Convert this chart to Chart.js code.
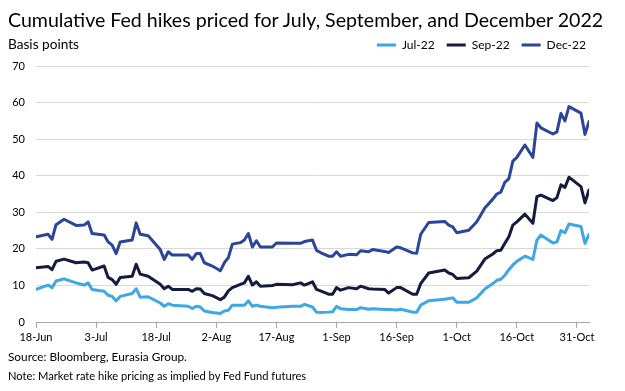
<!DOCTYPE html>
<html><head><meta charset="utf-8">
<script src="https://cdn.jsdelivr.net/npm/chart.js@4"></script>
<style>
html,body{margin:0;padding:0;background:#fff;}
#wrap{position:relative;width:625px;height:391px;overflow:hidden;font-family:Lato,"Liberation Sans",sans-serif;color:#000;}
#wrap canvas{position:absolute;left:0;top:0;}
.t{position:absolute;white-space:nowrap;line-height:1;font-family:Lato,"Liberation Sans",sans-serif;}
</style></head><body>
<div id="wrap">
<canvas id="c" width="625" height="391"></canvas>
<div class="t" id="title">Cumulative Fed hikes priced for July, September, and December 2022</div>
<div class="t" id="unit">Basis points</div>
<div class="t" id="src">Source: Bloomberg, Eurasia Group.</div>
<div class="t" id="note">Note: Market rate hike pricing as implied by Fed Fund futures</div>
</div>
<script>
const dates = ['06-18','06-21','06-22','06-23','06-25','06-28','06-30','07-01','07-02','07-05','07-06','07-07','07-08','07-09','07-12','07-13','07-14','07-16','07-19','07-20','07-21','07-22','07-26','07-27','07-28','07-29','07-30','08-01','08-03','08-04','08-05','08-06','08-08','08-09','08-10','08-11','08-12','08-13','08-16','08-17','08-21','08-23','08-24','08-26','08-27','08-28','08-30','08-31','09-01','09-02','09-04','09-06','09-07','09-09','09-10','09-13','09-14','09-16','09-17','09-20','09-21','09-22','09-24','09-28','09-29','09-30','10-01','10-04','10-06','10-08','10-10','10-11','10-12','10-13','10-14','10-15','10-16','10-18','10-20','10-21','10-22','10-25','10-26','10-27','10-28','10-29','11-01','11-02','11-03'];
const jul22 = [8.9,10.1,9.4,11.2,11.8,10.7,10.1,10.7,8.9,8.4,7.3,7.0,5.8,7.0,7.8,9.1,6.8,6.9,5.2,4.3,5.0,4.6,4.3,3.7,4.3,4.1,3.0,2.6,2.3,3.0,3.2,4.6,4.6,4.6,5.8,4.3,4.6,4.3,3.9,4.0,4.3,4.3,4.8,4.1,2.7,2.6,2.7,2.8,4.3,3.6,3.4,3.4,3.9,3.5,3.6,3.4,3.4,3.3,3.5,2.7,2.7,4.6,5.8,6.2,6.4,6.6,5.4,5.4,6.6,9.0,10.5,11.4,11.7,12.8,14.3,15.6,16.6,18.0,17.1,22.4,23.8,21.6,21.9,25.0,24.4,26.8,26.1,21.5,24.0];
const sep22 = [14.8,15.2,14.3,16.6,17.2,16.2,16.4,16.2,14.2,15.3,12.2,11.6,10.3,12.2,12.5,15.8,13.1,12.5,10.3,9.1,9.8,8.9,8.9,8.4,9.1,9.0,7.8,7.2,6.1,6.8,8.5,9.4,10.3,10.7,12.5,10.1,11.0,9.8,10.0,10.3,10.2,10.7,10.1,11.0,8.9,8.5,7.6,7.6,9.4,8.7,9.4,9.1,9.8,9.1,9.0,8.9,7.9,9.4,9.4,7.6,7.6,10.5,13.4,14.2,13.4,13.0,11.9,12.1,13.9,17.2,18.6,19.5,19.6,21.5,23.3,26.5,27.4,29.5,27.0,34.3,34.7,33.2,34.0,37.5,36.8,39.6,37.0,32.6,36.1];
const dec22 = [23.3,24.0,22.6,26.6,28.1,26.4,26.5,27.4,24.2,23.8,21.9,21.0,18.7,21.9,22.4,27.1,24.0,23.6,19.8,17.1,19.2,18.3,18.3,17.1,18.7,18.7,16.2,15.3,14.0,16.2,17.6,21.3,21.7,22.4,24.2,20.5,22.2,20.5,20.5,21.6,21.5,21.5,22.0,22.4,19.6,19.0,18.0,18.0,19.2,18.0,18.5,18.4,19.5,19.2,19.8,19.3,19.0,20.5,20.3,18.9,18.8,24.0,27.2,27.5,26.5,26.0,24.4,25.1,27.4,31.2,33.6,35.0,35.5,38.2,39.2,44.0,45.0,48.4,45.0,54.4,53.1,51.4,52.0,57.0,55.0,58.9,57.1,51.3,54.8];
const seriesNames = ['Jul-22','Sep-22','Dec-22'];
const seriesColors = ['#3DA8E3','#151B3F','#2D4597'];
const monthNames = ['Jan','Feb','Mar','Apr','May','Jun','Jul','Aug','Sep','Oct','Nov','Dec'];
const startDate = '2022-06-18';
const endDate = '2022-11-03';
const xTickStepDays = 15;
const yMin = 0, yMax = 70, yStep = 10;

const DAY = 864e5;
const t0 = Date.parse(startDate + 'T00:00:00Z');
const toX = d => (Date.parse('2022-' + d + 'T00:00:00Z') - t0) / DAY;
const xMax = (Date.parse(endDate + 'T00:00:00Z') - t0) / DAY;
const pts = vals => dates.map((d, i) => ({x: toX(d), y: vals[i]}));

function place(id, left, baseline, width) {
  const el = document.getElementById(id);
  const ctx = document.createElement('canvas').getContext('2d');
  ctx.font = '100px Lato';
  const m = ctx.measureText(el.textContent);
  const size = 100 * width / m.width;
  const asc = m.fontBoundingBoxAscent / 100, desc = m.fontBoundingBoxDescent / 100;
  el.style.fontSize = size + 'px';
  el.style.left = left + 'px';
  el.style.top = (baseline - size * ((1 - (asc + desc)) / 2 + asc)) + 'px';
}
place('title', 8, 27, 597);
place('unit', 8, 50, 71);
place('src', 8, 362, 179);
place('note', 8, 380, 299);

const legendPos = {
  id: 'legendPos',
  afterLayout(chart) {
    const l = chart.legend;
    const p = l.options.labels.padding;
    l.top = 45 - p - 6;
    l.right = 586 + p;
  }
};

const chart = new Chart(document.getElementById('c'), {
  type: 'line',
  data: {
    datasets: [jul22, sep22, dec22].map((v, i) => ({
      label: seriesNames[i],
      data: pts(v),
      borderColor: seriesColors[i],
      backgroundColor: seriesColors[i],
      borderWidth: 3,
      pointRadius: 0,
      tension: 0,
      borderJoinStyle: 'round',
      borderCapStyle: 'round'
    }))
  },
  options: {
    responsive: false,
    animation: false,
    devicePixelRatio: 1,
    layout: {padding: {left: 0, top: 20, right: 36, bottom: 40}},
    plugins: {
      title: {display: false},
      tooltip: {enabled: false},
      legend: {
        display: true,
        position: 'top',
        align: 'end',
        labels: {
          usePointStyle: true,
          pointStyle: 'line',
          pointStyleWidth: 19,
          padding: 12,
          color: '#000',
          font: {family: 'Lato', size: 12}
        }
      }
    },
    scales: {
      x: {
        type: 'linear',
        min: 0,
        max: xMax,
        grid: {display: true, drawOnChartArea: false, drawTicks: true, tickLength: 6, color: '#A6A6A6'},
        border: {display: true, color: '#A6A6A6', width: 1},
        ticks: {
          stepSize: xTickStepDays,
          includeBounds: false,
          autoSkip: false,
          maxRotation: 0,
          padding: 3,
          color: '#000',
          font: {family: 'Lato', size: 11},
          callback: v => {
            const d = new Date(t0 + v * DAY);
            return d.getUTCDate() + '-' + monthNames[d.getUTCMonth()];
          }
        }
      },
      y: {
        min: yMin,
        max: yMax,
        grid: {color: '#D9D9D9', drawTicks: false},
        border: {display: false},
        ticks: {stepSize: yStep, padding: 11, color: '#000', font: {family: 'Lato', size: 11}}
      }
    }
  },
  plugins: [legendPos]
});

for (let i = 0; i < 3; i++) {
  const a = chart.chartArea;
  const p = chart.options.layout.padding;
  p.left += 36 - a.left;
  p.top += 66 - a.top;
  p.right += a.right - 589;
  p.bottom += a.bottom - 322;
  chart.update();
}
</script>
</body></html>
